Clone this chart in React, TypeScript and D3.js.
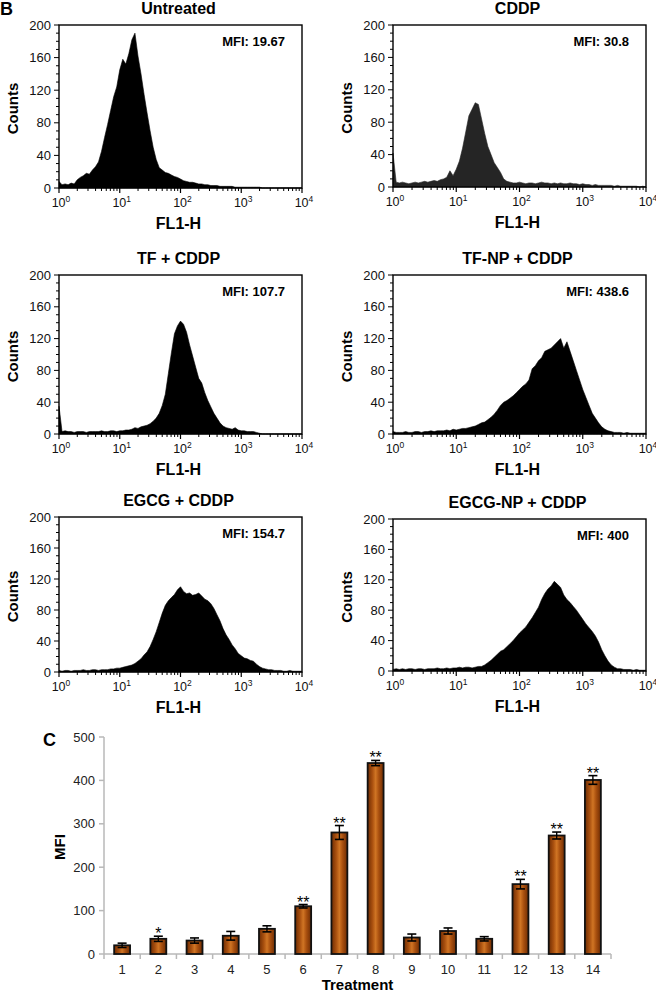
import React from "react";
import * as d3 from "d3";

// ---------- Data ----------
// Histogram counts sampled every 0.05 decade from 10^0 to 10^4 (81 values each)
const LOG_STEP = 0.05;
const untreatedCounts = [
  8, 4, 5, 4, 6, 5, 10, 13, 15, 18,
  17, 22, 26, 32, 45, 62, 78, 95, 112, 124,
  145, 158, 152, 165, 182, 190, 162, 140, 115, 92,
  70, 50, 35, 25, 22, 19, 18, 16, 14, 13,
  11, 9, 8, 7, 7, 6, 5, 5, 4, 4,
  3, 3, 3, 2, 2, 2, 2, 2, 1, 1,
  1, 1, 1, 1, 1, 1, 1, 0, 0, 0,
  0, 0, 0, 0, 0, 0, 0, 0, 0, 0,
  0,
];
const cddpCounts = [
  42, 6, 5, 6, 5, 4, 5, 6, 5, 6,
  7, 6, 7, 8, 7, 9, 10, 12, 20, 14,
  22, 32, 48, 68, 88, 96, 104, 102, 84, 66,
  50, 40, 30, 24, 18, 10, 7, 6, 5, 5,
  6, 5, 4, 5, 5, 4, 5, 6, 5, 5,
  4, 5, 4, 5, 4, 4, 5, 4, 4, 3,
  4, 3, 3, 2, 3, 2, 2, 2, 2, 2,
  1, 2, 1, 1, 1, 1, 1, 1, 0, 1,
  0,
];
const tfCounts = [
  35, 3, 4, 3, 3, 2, 3, 3, 3, 2,
  3, 3, 3, 3, 4, 3, 3, 4, 4, 3,
  4, 4, 5, 5, 6, 8, 7, 9, 10, 11,
  13, 16, 20, 26, 36, 50, 76, 102, 126, 136,
  142, 138, 128, 112, 98, 84, 70, 64, 52, 42,
  34, 26, 20, 14, 10, 8, 7, 6, 8, 5,
  4, 4, 3, 3, 3, 2, 1, 0, 0, 0,
  0, 0, 0, 0, 0, 0, 0, 0, 0, 0,
  0,
];
const tfNpCounts = [
  3, 2, 2, 2, 3, 2, 2, 3, 3, 2,
  3, 3, 4, 3, 4, 4, 4, 5, 4, 6,
  5, 6, 7, 7, 8, 9, 10, 12, 14, 15,
  18, 21, 25, 30, 36, 40, 42, 45, 48, 52,
  56, 60, 63, 68, 82, 86, 92, 96, 104, 106,
  108, 112, 116, 120, 108, 116, 104, 92, 80, 68,
  56, 46, 36, 26, 20, 14, 9, 6, 4, 3,
  2, 2, 2, 1, 2, 1, 1, 1, 1, 1,
  1,
];
const egcgCounts = [
  2, 1, 2, 2, 1, 2, 2, 2, 3, 2,
  2, 3, 3, 2, 3, 3, 3, 4, 4, 5,
  5, 6, 7, 8, 9, 11, 14, 17, 22, 26,
  33, 42, 52, 64, 76, 86, 92, 96, 100, 106,
  110, 104, 101, 102, 99, 100, 102, 98, 94, 92,
  88, 82, 74, 66, 56, 48, 42, 35, 30, 24,
  21, 18, 17, 15, 14, 10, 7, 5, 4, 3,
  3, 2, 2, 2, 1, 1, 2, 1, 1, 1,
  1,
];
const egcgNpCounts = [
  2, 3, 2, 3, 2, 3, 3, 2, 3, 3,
  2, 3, 3, 3, 4, 3, 3, 4, 3, 4,
  4, 5, 4, 5, 5, 4, 5, 6, 6, 8,
  11, 14, 18, 22, 26, 28, 32, 36, 40, 45,
  50, 54, 58, 64, 70, 77, 84, 94, 102, 108,
  112, 118, 114, 110, 100, 94, 90, 85, 80, 74,
  68, 62, 57, 52, 46, 38, 28, 20, 13, 8,
  5, 3, 3, 2, 2, 2, 1, 2, 1, 1,
  1,
];

const panelTitles = ["Untreated", "CDDP", "TF + CDDP", "TF-NP + CDDP", "EGCG + CDDP", "EGCG-NP + CDDP"];
const panelMfiLabels = ["MFI: 19.67", "MFI: 30.8", "MFI: 107.7", "MFI: 438.6", "MFI: 154.7", "MFI: 400"];
const panelCounts = [untreatedCounts, cddpCounts, tfCounts, tfNpCounts, egcgCounts, egcgNpCounts];
const countTicks = [0, 40, 80, 120, 160, 200];
const decadeTicks = [0, 1, 2, 3, 4];

// Bar chart
const treatments = ["1", "2", "3", "4", "5", "6", "7", "8", "9", "10", "11", "12", "13", "14"];
const mfiMeans = [20, 35, 31, 42, 58, 110, 280, 440, 38, 53, 35, 161, 273, 401];
const mfiErrors = [5, 6, 6, 10, 7, 4, 16, 6, 8, 7, 5, 11, 8, 10];
const significance = ["", "*", "", "", "", "**", "**", "**", "", "", "", "**", "**", "**"];
const mfiTicks = [0, 100, 200, 300, 400, 500];

// ---------- Layout ----------
const FONT = "'Liberation Sans', Arial, Helvetica, sans-serif";
const panelBoxes = [
  { x0: 59, x1: 302, yT: 25, yB: 188 },
  { x0: 393, x1: 646, yT: 25, yB: 187 },
  { x0: 59, x1: 302, yT: 275, yB: 434 },
  { x0: 393, x1: 646, yT: 275, yB: 434 },
  { x0: 59, x1: 302, yT: 517, yB: 672 },
  { x0: 393, x1: 646, yT: 519, yB: 671 },
];
const panelFills = ["#000", "#252525", "#000", "#000", "#000", "#000"];

function Histogram({ idx }: { idx: number }) {
  const b = panelBoxes[idx];
  const counts = panelCounts[idx];
  const x = d3.scaleLog().domain([1, 1e4]).range([b.x0, b.x1]);
  const y = d3.scaleLinear().domain([0, 200]).range([b.yB, b.yT]);
  const area = d3
    .area<number>()
    .x((_, i) => x(Math.pow(10, i * LOG_STEP)))
    .y0(b.yB)
    .y1((d) => y(d))
    .curve(d3.curveLinear);
  const minorY = d3.range(0, 201, 10);
  const minorX: number[] = [];
  for (let d = 0; d < 4; d++) for (let k = 2; k <= 9; k++) minorX.push(k * Math.pow(10, d));
  const midX = (b.x0 + b.x1) / 2;
  const midY = (b.yT + b.yB) / 2;
  return (
    <g>
      <text x={midX - 2} y={b.yT - 11} textAnchor="middle" fontSize={16} fontWeight="bold" fontFamily={FONT}>
        {panelTitles[idx]}
      </text>
      <path d={area(counts) || ""} fill={panelFills[idx]} stroke={panelFills[idx]} strokeWidth={0.6} />
      <rect x={b.x0} y={b.yT} width={b.x1 - b.x0} height={b.yB - b.yT} fill="none" stroke="#000" strokeWidth={1.4} />
      {minorY.map((v) => (
        <line key={"my" + v} x1={b.x0 - (v % 40 === 0 ? 5 : 3)} x2={b.x0} y1={y(v)} y2={y(v)} stroke="#000" strokeWidth={1} />
      ))}
      {countTicks.map((v) => (
        <text key={"ly" + v} x={b.x0 - 8} y={y(v) + 4.5} textAnchor="end" fontSize={13} fontFamily={FONT} fill="#111">
          {v}
        </text>
      ))}
      {minorX.map((v) => (
        <line key={"mx" + v} x1={x(v)} x2={x(v)} y1={b.yB} y2={b.yB + 3} stroke="#000" strokeWidth={1} />
      ))}
      {decadeTicks.map((d) => (
        <line key={"dx" + d} x1={x(Math.pow(10, d))} x2={x(Math.pow(10, d))} y1={b.yB} y2={b.yB + 5} stroke="#000" strokeWidth={1.2} />
      ))}
      {decadeTicks.map((d) => (
        <text key={"lx" + d} x={x(Math.pow(10, d)) + 2} y={b.yB + 19} textAnchor="middle" fontSize={12.5} fontFamily={FONT} fill="#111">
          10
          <tspan dy={-5} fontSize={8.5}>
            {d}
          </tspan>
        </text>
      ))}
      <text x={midX - 2} y={b.yB + 41} textAnchor="middle" fontSize={16} fontWeight="bold" fontFamily={FONT}>
        FL1-H
      </text>
      <text
        transform={`translate(${b.x0 - 41},${midY + 2}) rotate(-90)`}
        textAnchor="middle"
        fontSize={15}
        fontWeight="bold"
        fontFamily={FONT}
      >
        Counts
      </text>
      <text x={b.x1 - 17} y={b.yT + 21} textAnchor="end" fontSize={13} fontWeight="bold" fontFamily={FONT}>
        {panelMfiLabels[idx]}
      </text>
    </g>
  );
}

function BarChart() {
  const left = 104,
    right = 611,
    top = 737,
    bottom = 954;
  const x = d3.scaleBand().domain(treatments).range([left, right]).paddingInner(0.56).paddingOuter(0.28);
  const y = d3.scaleLinear().domain([0, 500]).range([bottom, top]);
  const step = x.step();
  const bw = x.bandwidth();
  const axisColor = "#b8b8b8";
  return (
    <g fontFamily={FONT}>
      <defs>
        <linearGradient id="barGrad" x1="0" x2="1" y1="0" y2="0">
          <stop offset="0" stopColor="#6e2c03" />
          <stop offset="0.3" stopColor="#a9500f" />
          <stop offset="0.5" stopColor="#d07524" />
          <stop offset="0.7" stopColor="#a9500f" />
          <stop offset="1" stopColor="#6e2c03" />
        </linearGradient>
      </defs>
      <text x={43} y={746} fontSize={18} fontWeight="bold">
        C
      </text>
      <line x1={left} x2={left} y1={top} y2={bottom} stroke={axisColor} strokeWidth={1.5} />
      <line x1={left} x2={right} y1={bottom} y2={bottom} stroke={axisColor} strokeWidth={1.5} />
      {mfiTicks.map((v) => (
        <g key={"yt" + v}>
          <line x1={left - 5} x2={left} y1={y(v)} y2={y(v)} stroke={axisColor} strokeWidth={1.5} />
          <text x={left - 9} y={y(v) + 4.5} textAnchor="end" fontSize={13} fill="#222">
            {v}
          </text>
        </g>
      ))}
      {d3.range(treatments.length + 1).map((i) => (
        <line key={"xt" + i} x1={left + i * step} x2={left + i * step} y1={bottom} y2={bottom + 5} stroke={axisColor} strokeWidth={1.5} />
      ))}
      {treatments.map((t, i) => {
        const bx = x(t) as number;
        const cx = bx + bw / 2;
        const v = mfiMeans[i];
        const e = mfiErrors[i];
        return (
          <g key={"bar" + t}>
            <rect x={bx} y={y(v)} width={bw} height={bottom - y(v)} fill="url(#barGrad)" stroke="#111" strokeWidth={1.8} />
            <line x1={cx} x2={cx} y1={y(v + e)} y2={y(v - e)} stroke="#000" strokeWidth={1.4} />
            <line x1={cx - 4.5} x2={cx + 4.5} y1={y(v + e)} y2={y(v + e)} stroke="#000" strokeWidth={1.6} />
            <line x1={cx - 4.5} x2={cx + 4.5} y1={y(v - e)} y2={y(v - e)} stroke="#000" strokeWidth={1.6} />
            {significance[i] && (
              <text x={cx} y={y(v + e) + 3} textAnchor="middle" fontSize={16} fill="#000">
                {significance[i]}
              </text>
            )}
            <text x={cx} y={974} textAnchor="middle" fontSize={13} fill="#222">
              {t}
            </text>
          </g>
        );
      })}
      <text transform={`translate(65,847) rotate(-90)`} textAnchor="middle" fontSize={15} fontWeight="bold">
        MFI
      </text>
      <text x={(left + right) / 2} y={990} textAnchor="middle" fontSize={15} fontWeight="bold">
        Treatment
      </text>
    </g>
  );
}

export default function App() {
  return (
    <svg
      width={656}
      height={992}
      viewBox="0 0 656 992"
      style={{ position: "absolute", left: 0, top: 0, background: "#fff" }}
    >
      <rect x={0} y={0} width={656} height={992} fill="#fff" />
      <text x={0} y={15} fontSize={18} fontWeight="bold" fontFamily={FONT}>
        B
      </text>
      {panelTitles.map((_, i) => (
        <Histogram key={i} idx={i} />
      ))}
      <BarChart />
    </svg>
  );
}
